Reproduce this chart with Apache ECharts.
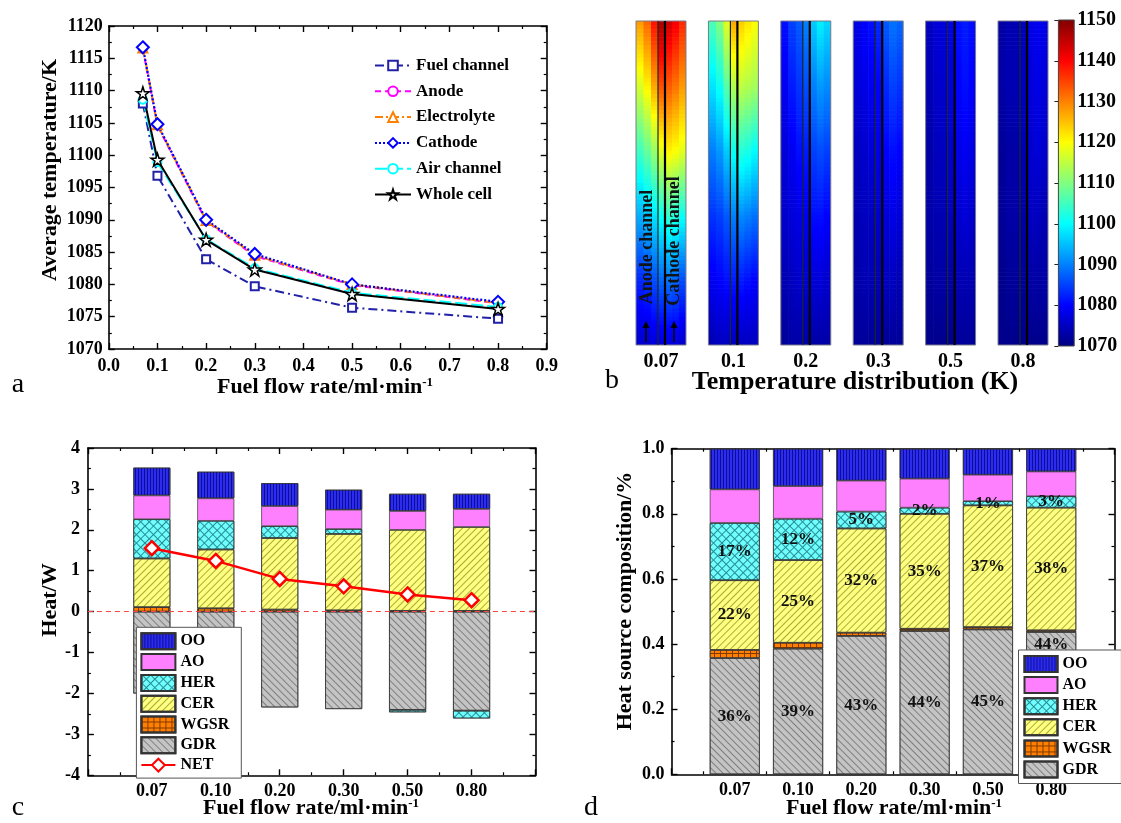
<!DOCTYPE html>
<html><head><meta charset="utf-8">
<script src="https://cdn.jsdelivr.net/npm/echarts@6/dist/echarts.min.js"></script>
<style>html,body{margin:0;padding:0;background:#fff}#c{position:absolute;left:0;top:0;width:1121px;height:823px}#b{position:absolute;left:560px;top:0;width:561px;height:400px}</style>
</head><body><div id="c"></div><div id="b"></div>
<script>
// ---------- Panel a: average temperatures ----------
const flowRatesA = [0.07, 0.1, 0.2, 0.3, 0.5, 0.8];
const fuelChannelT = [1108.0, 1096.8, 1083.9, 1079.7, 1076.4, 1074.7];
const anodeT       = [1116.5, 1104.6, 1089.8, 1084.4, 1079.9, 1077.1];
const electrolyteT = [1116.6, 1104.7, 1089.9, 1084.5, 1080.0, 1077.1];
const cathodeT     = [1116.7, 1104.8, 1090.0, 1084.7, 1080.0, 1077.3];
const airChannelT  = [1108.6, 1098.9, 1087.0, 1082.5, 1078.7, 1076.5];
const wholeCellT   = [1109.6, 1099.3, 1086.9, 1082.3, 1078.5, 1076.2];

// ---------- Panel b: temperature maps (K), strips left->right, samples top->bottom ----------
const mapLabels = ['0.07', '0.1', '0.2', '0.3', '0.5', '0.8'];
const stripEdges = [0, 0.15, 0.3, 0.44, 0.58, 0.72, 0.86, 1];
const sampleHeights = [1, 0.8, 0.6, 0.4, 0.2, 0];
const field007 = [
  [1128, 1117, 1105, 1094, 1083, 1076],
  [1132, 1121, 1108, 1096, 1084, 1076],
  [1139, 1127, 1112, 1098, 1086, 1077],
  [1147, 1134, 1118, 1101, 1088, 1077],
  [1144, 1133, 1121, 1104, 1089, 1077],
  [1141, 1131, 1120, 1103, 1088, 1077],
  [1137, 1128, 1118, 1101, 1086, 1076]];
const field01 = [
  [1106, 1098, 1090, 1084, 1079, 1074],
  [1110, 1101, 1092, 1085, 1080, 1075],
  [1118, 1107, 1096, 1087, 1081, 1075],
  [1127, 1114, 1101, 1090, 1082, 1075],
  [1124, 1115, 1103, 1091, 1082, 1075],
  [1122, 1114, 1102, 1090, 1081, 1075],
  [1120, 1113, 1100, 1089, 1080, 1075]];
const field02 = [
  [1081, 1079, 1077, 1076, 1074, 1072],
  [1085, 1082, 1079, 1077, 1075, 1073],
  [1087, 1084, 1081, 1078, 1076, 1073],
  [1090, 1086, 1082, 1079, 1076, 1073],
  [1096, 1090, 1085, 1081, 1077, 1073],
  [1099, 1092, 1086, 1081, 1077, 1073],
  [1097, 1091, 1085, 1080, 1076, 1073]];
const field03 = [
  [1078, 1077, 1075, 1074, 1073, 1072],
  [1080, 1078, 1076, 1075, 1074, 1072],
  [1081, 1079, 1077, 1075, 1074, 1072],
  [1083, 1080, 1078, 1076, 1074, 1072],
  [1087, 1083, 1080, 1077, 1075, 1072],
  [1089, 1085, 1081, 1078, 1075, 1072],
  [1088, 1084, 1080, 1077, 1074, 1072]];
const field05 = [
  [1075, 1074, 1073, 1073, 1072, 1071],
  [1077, 1076, 1075, 1074, 1073, 1071],
  [1077, 1076, 1075, 1074, 1073, 1071],
  [1078, 1077, 1076, 1075, 1073, 1071],
  [1081, 1080, 1078, 1076, 1074, 1072],
  [1082, 1081, 1079, 1077, 1074, 1072],
  [1081, 1080, 1078, 1076, 1074, 1072]];
const field08 = [
  [1073, 1073, 1072, 1072, 1071, 1071],
  [1074, 1074, 1073, 1073, 1072, 1071],
  [1074, 1074, 1073, 1073, 1072, 1071],
  [1075, 1075, 1074, 1073, 1072, 1071],
  [1078, 1077, 1076, 1075, 1073, 1071],
  [1079, 1078, 1077, 1075, 1073, 1071],
  [1078, 1077, 1076, 1074, 1073, 1071]];
const colorbarTicks = [1070, 1080, 1090, 1100, 1110, 1120, 1130, 1140, 1150];

// ---------- Panel c: heat (W) ----------
const flowLabels = ['0.07', '0.10', '0.20', '0.30', '0.50', '0.80'];
const heatWGSR = [0.11, 0.08, 0.05, 0.03, 0.02, 0.02];
const heatCER  = [1.19, 1.44, 1.75, 1.87, 1.98, 2.05];
const heatGDR  = [-2.00, -2.19, -2.34, -2.38, -2.40, -2.42];
const heatHER  = [0.96, 0.70, 0.29, 0.12, -0.06, -0.19];
const heatAO   = [0.58, 0.55, 0.49, 0.47, 0.46, 0.44];
const heatOO   = [0.68, 0.65, 0.56, 0.49, 0.42, 0.37];
const heatNET  = [1.55, 1.24, 0.80, 0.62, 0.42, 0.28];

// ---------- Panel d: composition ----------
const fracGDR  = [0.357, 0.386, 0.425, 0.440, 0.445, 0.437];
const fracWGSR = [0.025, 0.018, 0.010, 0.007, 0.007, 0.005];
const fracCER  = [0.214, 0.254, 0.320, 0.353, 0.374, 0.377];
const fracHER  = [0.176, 0.127, 0.052, 0.019, 0.013, 0.035];
const fracAO   = [0.103, 0.100, 0.095, 0.089, 0.081, 0.076];
const fracOO   = [0.125, 0.115, 0.098, 0.092, 0.080, 0.070];
const pctGDR = ['36%', '39%', '43%', '44%', '45%', '44%'];
const pctCER = ['22%', '25%', '32%', '35%', '37%', '38%'];
const pctHER = ['17%', '12%', '5%', '2%', '1%', '3%'];

// ================= shared helpers =================
const FONT = 'Liberation Serif';
const cbMin = 1070, cbMax = 1150;
function jet(v) {
  const t = Math.max(0, Math.min(1, (v - cbMin) / (cbMax - cbMin)));
  const c = x => Math.round(255 * Math.max(0, Math.min(1, x)));
  return 'rgb(' + c(1.5 - Math.abs(4 * t - 3)) + ',' + c(1.5 - Math.abs(4 * t - 2)) + ',' + c(1.5 - Math.abs(4 * t - 1)) + ')';
}
const plain = v => String(v);
const lbl = (size, extra) => Object.assign({show: true, color: '#000', fontFamily: FONT, fontWeight: 'bold', fontSize: size}, extra || {});
function frameAxis(extra) {
  return Object.assign({
    type: 'value',
    axisLine: {show: true, onZero: false, lineStyle: {color: '#000', width: 1.6}},
    axisTick: {show: true, inside: true, length: 6, lineStyle: {color: '#000', width: 1.4}},
    minorTick: {show: true, splitNumber: 2, length: 3, lineStyle: {color: '#000', width: 1.2}},
    splitLine: {show: false}, minorSplitLine: {show: false},
    axisLabel: {show: false}
  }, extra);
}
const hidden = (g, extra) => Object.assign({gridIndex: g, type: 'value', show: false, splitLine: {show: false}}, extra);
const titleFont = {fontFamily: FONT, fontWeight: 'bold', fontSize: 22, fill: '#000'};
const richTitle = (x, y, main) => ({type: 'text', x: x, y: y, style: {
  text: main + '{s|-1}', align: 'center', verticalAlign: 'middle', fontFamily: FONT, fontWeight: 'bold', fontSize: 22, fill: '#000',
  rich: {s: {fontFamily: FONT, fontWeight: 'bold', fontSize: 13, verticalAlign: 'top', fill: '#000'}}}});
const plainText = (x, y, text, font, rot, z) => ({type: 'text', x: x, y: y, rotation: rot || 0, z: z || 0,
  style: Object.assign({text: text, align: 'center', verticalAlign: 'middle'}, font)});
const panelFont = {fontFamily: FONT, fontSize: 28, fill: '#000'};

// ================= main chart: panels a, c, d =================
const decalOO   = {symbol: 'rect', dashArrayX: [1, 2], dashArrayY: [1, 0], color: 'rgba(0,0,110,0.7)'};
const gridRows  = [[1, 0], [1, 5], [1, 5], [1, 5], [1, 5], [1, 5]];
const decalHER  = {symbol: 'rect', dashArrayX: gridRows, dashArrayY: [1, 0], rotation: Math.PI / 4, color: 'rgba(0,80,90,0.65)'};
const decalCER  = {symbol: 'rect', dashArrayX: [1, 0], dashArrayY: [1, 4], rotation: -Math.PI / 4, color: 'rgba(100,100,0,0.55)'};
const decalWGSR = {symbol: 'rect', dashArrayX: gridRows, dashArrayY: [1, 0], color: 'rgba(100,40,0,0.8)'};
const decalGDR  = {symbol: 'rect', dashArrayX: [1, 0], dashArrayY: [1, 4], rotation: Math.PI / 4, color: 'rgba(70,70,70,0.55)'};
const styleOf = {
  OO:   {color: '#2c2cf0', decal: decalOO},
  AO:   {color: '#ff80ff'},
  HER:  {color: '#70ffff', decal: decalHER},
  CER:  {color: '#ffff80', decal: decalCER},
  WGSR: {color: '#ff8000', decal: decalWGSR},
  GDR:  {color: '#c4c4c4', decal: decalGDR}
};
const catsC = [''].concat(flowLabels, [' ']);
const pairs = arr => flowLabels.map((c, i) => [c, arr[i]]);
function barSeries(name, arr, xi, yi, stack, width, label) {
  const s = {
    name: name, type: 'bar', xAxisIndex: xi, yAxisIndex: yi, stack: stack, barWidth: width,
    data: pairs(arr),
    itemStyle: Object.assign({borderColor: '#333', borderWidth: 0.7}, styleOf[name])
  };
  if (label) s.label = label;
  return s;
}
const pctLabel = arr => lbl(17, {position: 'inside', color: '#111', formatter: p => arr[p.dataIndex]});

const STAR = 'path://M50,2 L61.8,37.6 L99.5,37.6 L69,59.6 L80.7,95.4 L50,73.4 L19.3,95.4 L31,59.6 L0.5,37.6 L38.2,37.6 Z';
const aData = arr => flowRatesA.map((x, i) => [x, arr[i]]);
const lineA = (name, arr, symbol, size, color, type, width, extra) => Object.assign({
  name: name, type: 'line', xAxisIndex: 0, yAxisIndex: 0, data: aData(arr),
  symbol: symbol, symbolSize: size,
  lineStyle: {color: color, width: width || 2, type: type},
  itemStyle: {color: color, borderWidth: 1.5}
}, extra || {});

const series = [
  lineA('Fuel channel', fuelChannelT, 'emptyRect', 8, '#2020a8', [9, 4, 2, 4], 2),
  lineA('Anode', anodeT, 'emptyCircle', 8, '#ff00ff', [6, 4], 2),
  lineA('Electrolyte', electrolyteT, 'emptyTriangle', 9, '#ff8000', [8, 3, 2, 3], 2),
  lineA('Cathode', cathodeT, 'emptyDiamond', 12, '#0000ff', [2, 2], 2.2),
  lineA('Air channel', airChannelT, 'emptyCircle', 8, '#00ffff', [12, 4], 2),
  lineA('Whole cell', wholeCellT, STAR, 13, '#000', 'solid', 2,
        {itemStyle: {color: '#fff', borderColor: '#000', borderWidth: 1.5}}),
  barSeries('WGSR', heatWGSR, 2, 2, 'c', 37),
  barSeries('CER', heatCER, 2, 2, 'c', 37),
  barSeries('GDR', heatGDR, 2, 2, 'c', 37),
  barSeries('HER', heatHER, 2, 2, 'c', 37),
  barSeries('AO', heatAO, 2, 2, 'c', 37),
  barSeries('OO', heatOO, 2, 2, 'c', 37),
  {
    name: 'NET', type: 'line', xAxisIndex: 2, yAxisIndex: 2, data: pairs(heatNET), z: 5,
    symbol: 'diamond', symbolSize: 14,
    lineStyle: {color: '#ff0000', width: 2.5},
    itemStyle: {color: '#fff', borderColor: '#ff0000', borderWidth: 2.5},
    markLine: {silent: true, symbol: ['none', 'none'], label: {show: false},
      lineStyle: {color: '#ff4545', type: [5, 4], width: 1.2}, data: [{yAxis: 0}]}
  },
  barSeries('GDR', fracGDR, 5, 5, 'd', 50, pctLabel(pctGDR)),
  barSeries('WGSR', fracWGSR, 5, 5, 'd', 50),
  barSeries('CER', fracCER, 5, 5, 'd', 50, pctLabel(pctCER)),
  barSeries('HER', fracHER, 5, 5, 'd', 50, pctLabel(pctHER)),
  barSeries('AO', fracAO, 5, 5, 'd', 50),
  barSeries('OO', fracOO, 5, 5, 'd', 50)
];
// GDR label of the last bar sits near its top (legend covers the middle)
series[series.length - 6].data[5] = {value: series[series.length - 6].data[5], label: {position: 'insideTop', distance: 4}};

const grids = [
  {left: 108.8, top: 26, width: 437.9, height: 323},      // a
  {left: 87.9, top: 448, width: 447.6, height: 327.3},    // c data
  {left: 87.9, top: 448, width: 447.6, height: 327.3},    // c frame
  {left: 671.5, top: 448.7, width: 443, height: 325.6},   // d data
  {left: 671.5, top: 448.7, width: 443, height: 325.6}    // d frame
].map(g => Object.assign({outerBoundsMode: 'none', containLabel: false}, g));

const xAxis = [
  frameAxis({gridIndex: 0, position: 'bottom', min: 0, max: 0.9, interval: 0.1, axisLabel: lbl(18, {margin: 8, formatter: v => v.toFixed(1)})}),
  frameAxis({gridIndex: 0, position: 'top', min: 0, max: 0.9, interval: 0.1}),
  {gridIndex: 1, type: 'category', data: catsC, boundaryGap: false, axisLine: {show: false, onZero: false}, axisTick: {show: false}, axisLabel: lbl(18, {margin: 7, interval: 0}), splitLine: {show: false}},
  frameAxis({gridIndex: 2, position: 'bottom', min: 0, max: 7, interval: 1}),
  frameAxis({gridIndex: 2, position: 'top', min: 0, max: 7, interval: 1}),
  {gridIndex: 3, type: 'category', data: catsC, boundaryGap: false, axisLine: {show: false, onZero: false}, axisTick: {show: false}, axisLabel: lbl(18, {margin: 7, interval: 0}), splitLine: {show: false}},
  frameAxis({gridIndex: 4, position: 'bottom', min: 0, max: 7, interval: 1}),
  frameAxis({gridIndex: 4, position: 'top', min: 0, max: 7, interval: 1})
];
const yAxis = [
  frameAxis({gridIndex: 0, position: 'left', min: 1070, max: 1120, interval: 5, axisLabel: lbl(18, {margin: 6, formatter: plain})}),
  frameAxis({gridIndex: 0, position: 'right', min: 1070, max: 1120, interval: 5}),
  hidden(1, {min: -4, max: 4}),
  frameAxis({gridIndex: 2, position: 'left', min: -4, max: 4, interval: 1, axisLabel: lbl(18, {margin: 8, formatter: plain})}),
  frameAxis({gridIndex: 2, position: 'right', min: -4, max: 4, interval: 1}),
  hidden(3, {min: 0, max: 1}),
  frameAxis({gridIndex: 4, position: 'left', min: 0, max: 1, interval: 0.2, axisLabel: lbl(18, {margin: 7, formatter: v => v.toFixed(1)})}),
  frameAxis({gridIndex: 4, position: 'right', min: 0, max: 1, interval: 0.2})
];

const legTxt = size => ({fontFamily: FONT, fontWeight: 'bold', fontSize: size, color: '#000'});
const rectItems = names => names.map(n => ({name: n, icon: 'rect'}));
const legend = [
  {left: 369, top: 52, orient: 'vertical', itemWidth: 36, itemHeight: 12, itemGap: 8.8, selectedMode: false,
   data: ['Fuel channel', 'Anode', 'Electrolyte', 'Cathode', 'Air channel', 'Whole cell'], textStyle: legTxt(17)},
  {left: 136.4, top: 627.3, orient: 'vertical', itemWidth: 34, itemHeight: 16, itemGap: 2.8, selectedMode: false,
   padding: [5, 12, 5, 4], backgroundColor: '#fff', borderColor: '#555', borderWidth: 1,
   data: rectItems(['OO', 'AO', 'HER', 'CER', 'WGSR', 'GDR']).concat([{name: 'NET'}]), textStyle: legTxt(16)},
  {left: 1018.5, top: 650, orient: 'vertical', itemWidth: 33, itemHeight: 16, itemGap: 3.1, selectedMode: false,
   padding: [5, 10, 5, 5], backgroundColor: '#fff', borderColor: '#555', borderWidth: 1,
   data: rectItems(['OO', 'AO', 'HER', 'CER', 'WGSR', 'GDR']), textStyle: legTxt(16)}
];

const graphic = [
  richTitle(325, 387, 'Fuel flow rate/ml·min'),
  plainText(50, 170, 'Average temperature/K', titleFont, Math.PI / 2),
  richTitle(311, 808, 'Fuel flow rate/ml·min'),
  plainText(50, 600, 'Heat/W', titleFont, Math.PI / 2),
  richTitle(894, 808, 'Fuel flow rate/ml·min'),
  plainText(625, 601, 'Heat source composition/%', titleFont, Math.PI / 2),
  plainText(18, 385, 'a', panelFont),
  plainText(18, 808, 'c', panelFont), plainText(591, 808, 'd', panelFont)
];

const chart = echarts.init(document.getElementById('c'), null, {renderer: 'canvas'});
chart.setOption({
  animation: false, backgroundColor: '#fff',
  grid: grids, xAxis: xAxis, yAxis: yAxis, legend: legend, series: series, graphic: graphic
});

// ================= second chart: panel b (own instance, local coordinates) =================
const fields = [field007, field01, field02, field03, field05, field08];
const segData = [];
fields.forEach((f, ci) => f.forEach((vals, si) => {
  for (let k = 0; k < sampleHeights.length - 1; k++) {
    // [column, left edge, right edge, upper height, lower height, upper T, lower T]
    segData.push([ci, stripEdges[si], stripEdges[si + 1], sampleHeights[k], sampleHeights[k + 1], vals[k], vals[k + 1]]);
  }
}));
const COLW = 0.69;
const SHADE_STEPS = 16;
const layerLines = [0.44, 0.58];
const chanFont = {fontFamily: FONT, fontWeight: 'bold', fontSize: 18, fill: '#101418'};
const arrow = (x, yTip, yTail) => ({type: 'group', z: 100, children: [
  {type: 'line', z: 100, shape: {x1: x, y1: yTail, x2: x, y2: yTip + 5}, style: {stroke: '#000', lineWidth: 1.6}},
  {type: 'polygon', z: 100, shape: {points: [[x - 3.5, yTip + 7], [x + 3.5, yTip + 7], [x, yTip]]}, style: {fill: '#000'}}]});

const chartB = echarts.init(document.getElementById('b'), null, {renderer: 'canvas'});
chartB.setOption({
  animation: false, backgroundColor: 'transparent',
  grid: [{left: 64.8, top: 21, width: 434.4, height: 324}, {left: 498.4, top: 20, width: 15.8, height: 326}],
  xAxis: [
    {gridIndex: 0, type: 'category', data: mapLabels, axisLine: {show: false}, axisTick: {show: false}, splitLine: {show: false}, axisLabel: lbl(20, {margin: 7})},
    {gridIndex: 1, type: 'value', min: 0, max: 1, show: false}
  ],
  yAxis: [
    {gridIndex: 0, type: 'value', min: 0, max: 1, axisLine: {show: false}, axisTick: {show: false}, axisLabel: {show: false}, splitLine: {show: false}},
    {gridIndex: 1, type: 'value', position: 'right', min: cbMin, max: cbMax, interval: 10,
     axisLine: {show: false}, axisTick: {show: true, inside: true, length: 4, lineStyle: {color: '#222'}},
     splitLine: {show: false}, axisLabel: lbl(20, {margin: 3, formatter: plain})}
  ],
  series: [
    {
      type: 'custom', xAxisIndex: 0, yAxisIndex: 0, data: segData,
      dimensions: ['col', 'x0', 'x1', 'h0', 'h1', 't0', 't1'], encode: {x: 0, y: 3},
      renderItem: function (params, api) {
        const d = segData[params.dataIndex];
        const p0 = api.coord([d[0], d[3]]), p1 = api.coord([d[0], d[4]]);
        const w = api.size([1, 0])[0] * COLW;
        const left = p0[0] - w / 2;
        const x0 = left + d[1] * w, x1 = left + d[2] * w;
        const segH = p1[1] - p0[1];
        const children = [];
        for (let j = 0; j < SHADE_STEPS; j++) {
          const f = (j + 0.5) / SHADE_STEPS;
          children.push({type: 'rect',
            shape: {x: x0, y: p0[1] + segH * j / SHADE_STEPS, width: x1 - x0 + (d[2] < 1 ? 0.6 : 0),
                    height: segH / SHADE_STEPS + (j < SHADE_STEPS - 1 || d[4] > 0 ? 0.6 : 0)},
            style: {fill: jet(d[5] + (d[6] - d[5]) * f)}});
        }
        return {type: 'group', children: children};
      }
    },
    {
      type: 'custom', xAxisIndex: 0, yAxisIndex: 0, data: mapLabels.map((_, i) => [i, 0]), z: 3,
      renderItem: function (params, api) {
        const ci = api.value(0);
        const top = api.coord([ci, 1]), bot = api.coord([ci, 0]);
        const w = api.size([1, 0])[0] * COLW;
        const left = top[0] - w / 2;
        return {type: 'group', children: [
          {type: 'rect', shape: {x: left, y: top[1], width: w, height: bot[1] - top[1]}, style: {fill: 'rgba(0,0,0,0)', stroke: '#7a7a8a', lineWidth: 1}},
          {type: 'line', shape: {x1: left + layerLines[0] * w, y1: top[1], x2: left + layerLines[0] * w, y2: bot[1]}, style: {stroke: '#1a2a1a', lineWidth: 1.2}},
          {type: 'line', shape: {x1: left + layerLines[1] * w, y1: top[1], x2: left + layerLines[1] * w, y2: bot[1]}, style: {stroke: '#000', lineWidth: 2.2}}
        ]};
      }
    },
    {
      type: 'custom', xAxisIndex: 1, yAxisIndex: 1, data: [[0, cbMin, cbMax]],
      renderItem: function (params, api) {
        const cs = params.coordSys;
        const yTop = api.coord([0, api.value(2)])[1], yBot = api.coord([0, api.value(1)])[1];
        const stops = colorbarTicks.map(v => ({offset: (cbMax - v) / (cbMax - cbMin), color: jet(v)})).sort((a, b) => a.offset - b.offset);
        return {type: 'rect', shape: {x: cs.x, y: yTop, width: cs.width, height: yBot - yTop},
          style: {fill: new echarts.graphic.LinearGradient(0, 0, 0, 1, stops), stroke: '#444', lineWidth: 1}};
      }
    }
  ],
  graphic: [
    plainText(295, 382, 'Temperature distribution (K)', Object.assign({}, titleFont, {fontSize: 26})),
    plainText(87, 247, 'Anode channel', chanFont, Math.PI / 2, 100),
    plainText(114, 241, 'Cathode channel', chanFont, Math.PI / 2, 100),
    arrow(86, 321, 342), arrow(114, 321, 342),
    plainText(52, 381, 'b', panelFont)
  ]
});
</script></body></html>
